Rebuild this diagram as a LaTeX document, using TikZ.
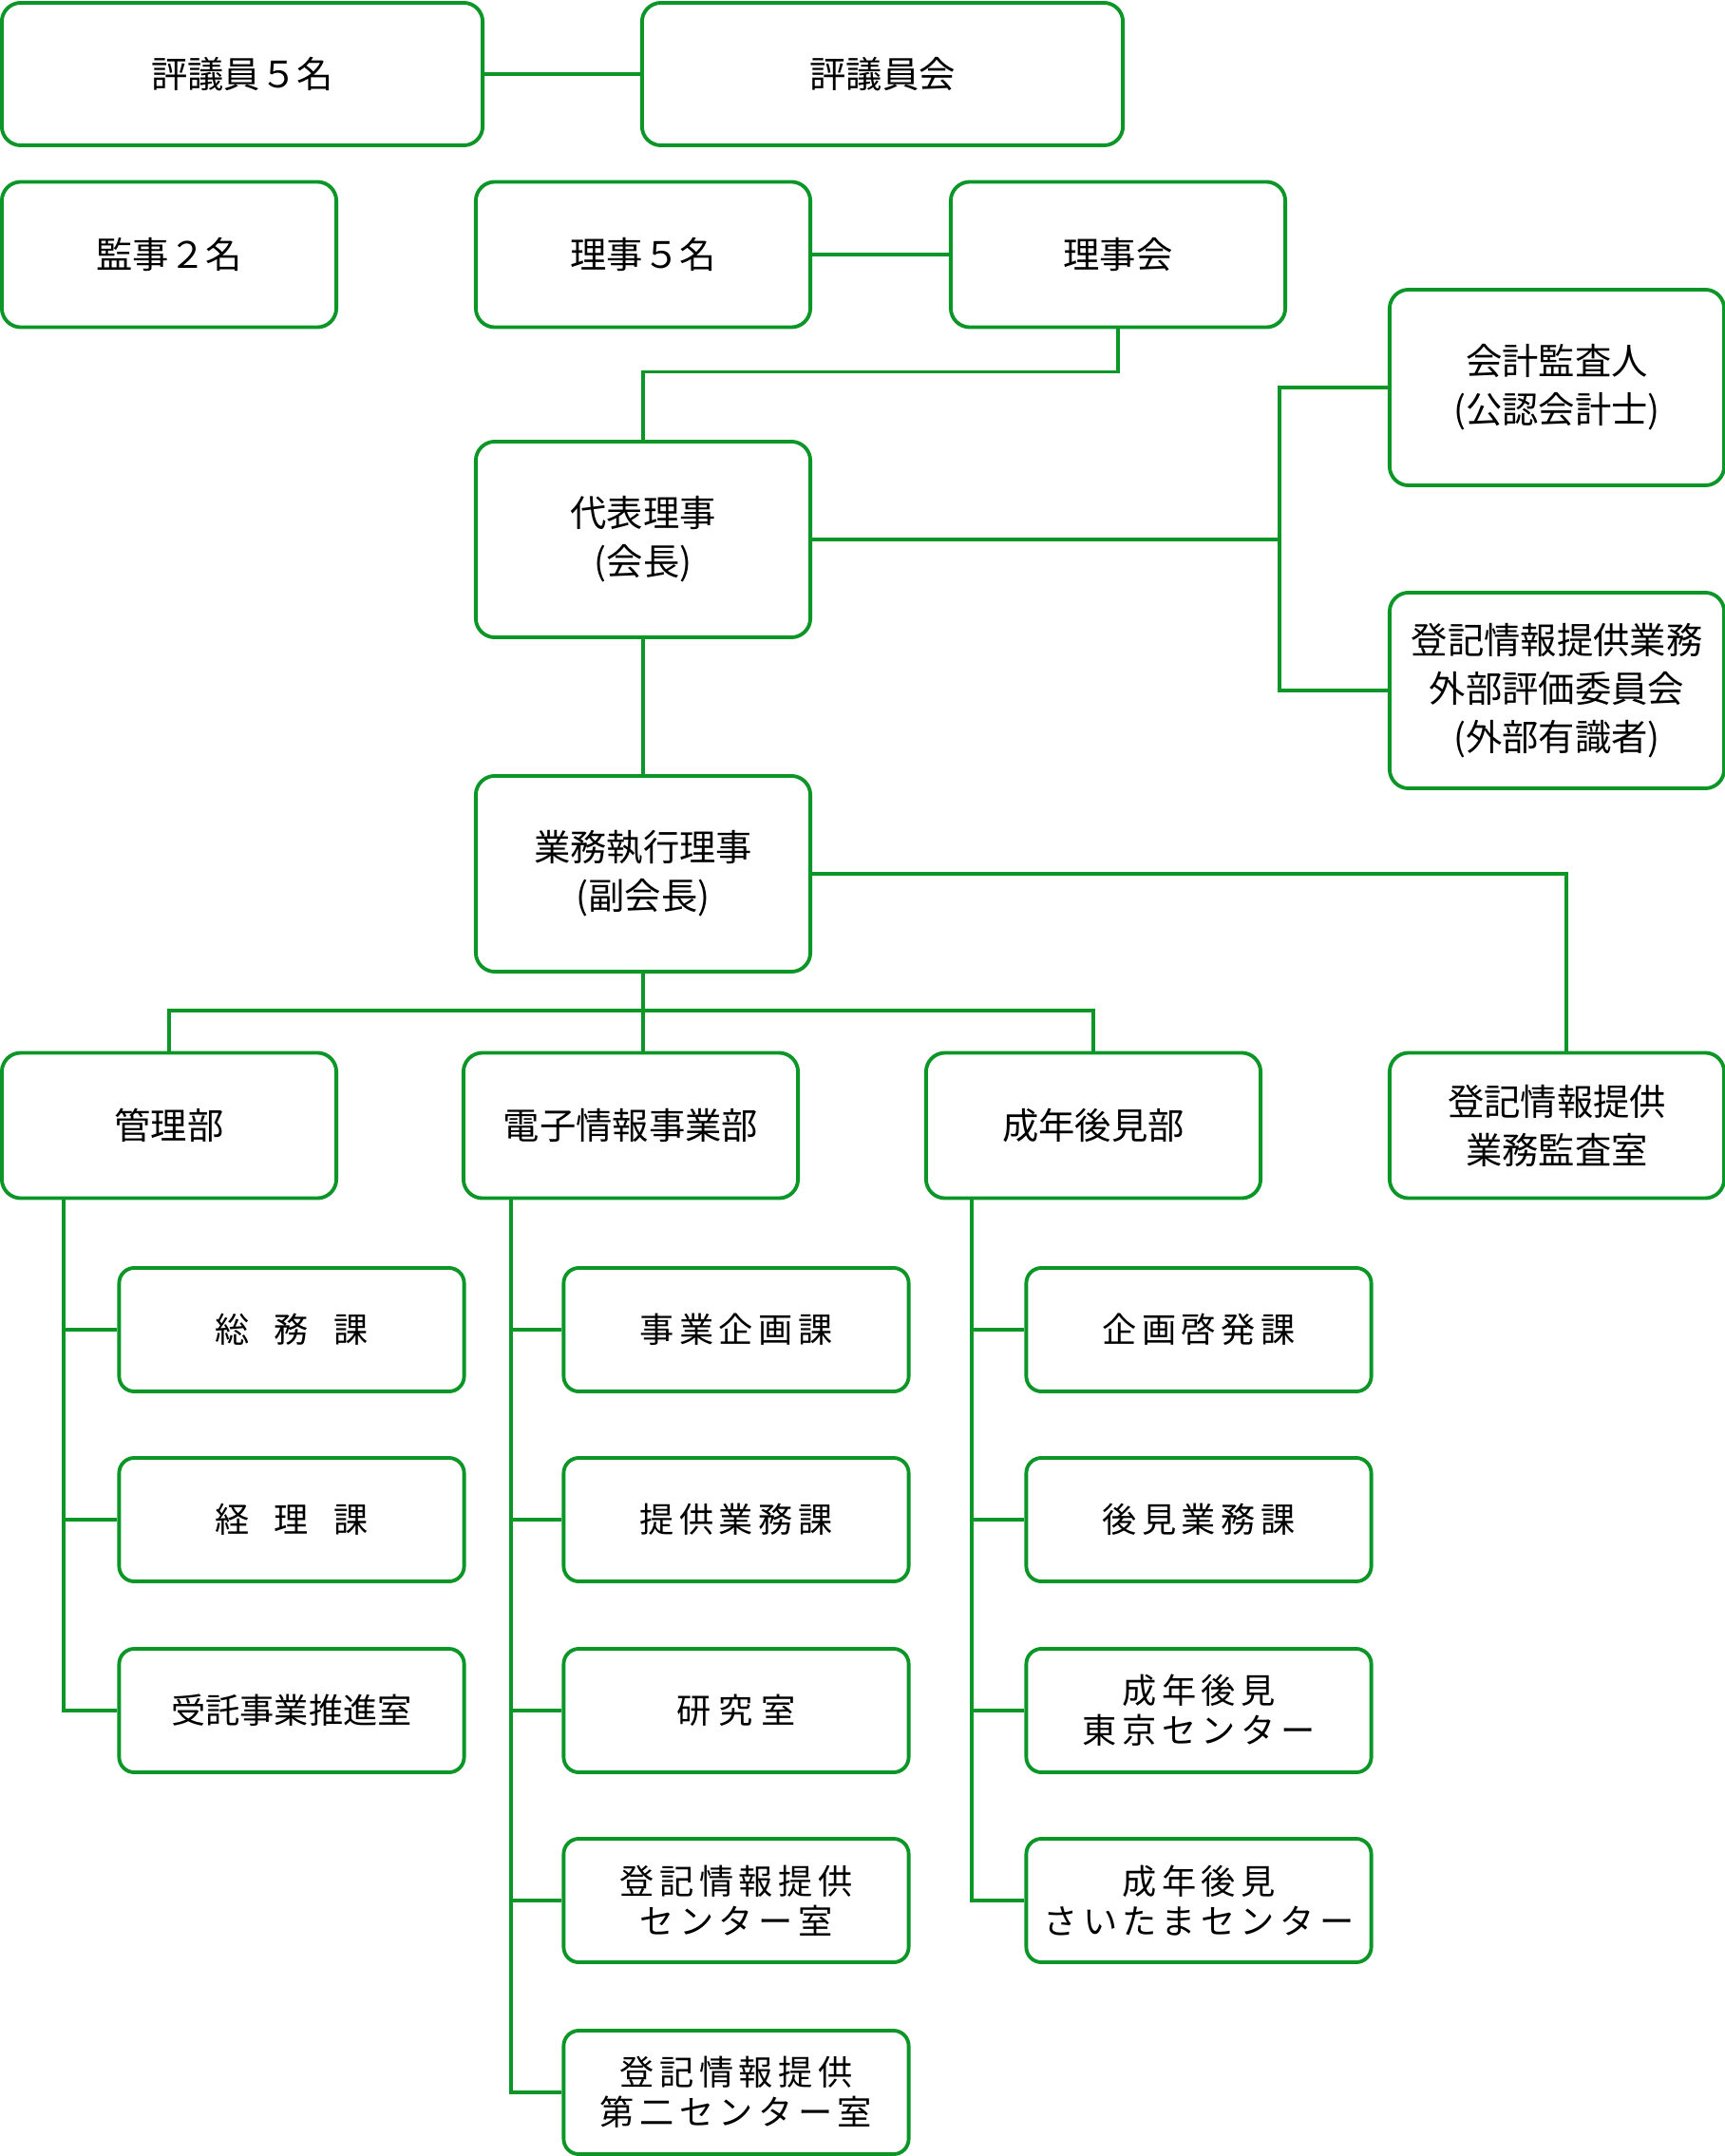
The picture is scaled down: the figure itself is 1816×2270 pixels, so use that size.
\documentclass[tikz,border=0pt]{standalone}
\usepackage{fontspec}
\setmainfont{Noto Sans CJK JP}
\newfontfamily\subfont{Noto Sans CJK JP}[LetterSpace=15]
\definecolor{orggreen}{RGB}{12,150,40}

\begin{document}
\begin{tikzpicture}[x=0.01cm,y=-0.01cm,
  box/.style={draw=orggreen,line width=1.1pt,rounded corners=0.2cm,align=center,
    inner sep=0pt,font=\fontsize{10.9}{14.5}\selectfont},
  wide/.style={minimum width=5.06cm,minimum height=1.5cm},
  mid/.style={minimum width=3.52cm,minimum height=1.53cm},
  tall/.style={minimum width=3.52cm,minimum height=2.06cm},
  sub/.style={box,rounded corners=0.16cm,minimum width=3.63cm,minimum height=1.3cm,
    font=\subfont\fontsize{10.3}{12}\selectfont},
  link/.style={draw=orggreen,line width=0.9pt}]
\useasboundingbox (0,0) rectangle (1816,2270);

\node[box,wide] (hyogiin) at (255,78) {評議員５名};
\node[box,wide] (hyogikai) at (929,78) {評議員会};
\node[box,mid] (kanji) at (178,268) {監事２名};
\node[box,mid] (riji) at (677,268) {理事５名};
\node[box,mid] (rijikai) at (1177,268) {理事会};
\node[box,tall] (daihyo) at (677,568) {代表理事\\(会長)};
\node[box,tall] (kaikei) at (1639,408) {会計監査人\\(公認会計士)};
\node[box,tall] (gaibu) at (1639,727) {登記情報提供業務\\外部評価委員会\\(外部有識者)};
\node[box,tall] (gyomu) at (677,920) {業務執行理事\\(副会長)};
\node[box,mid] (kanri) at (178,1185) {管理部};
\node[box,mid] (denshi) at (664,1185) {電子情報事業部};
\node[box,mid] (seinen) at (1151,1185) {成年後見部};
\node[box,mid] (kansa) at (1639,1185) {登記情報提供\\業務監査室};

\node[sub] (somu) at (307,1400) {総\hspace{0.265cm}務\hspace{0.265cm}課};
\node[sub] (keiri) at (307,1600) {経\hspace{0.265cm}理\hspace{0.265cm}課};
\node[sub,font=\fontsize{10.3}{12}\selectfont] (jutaku) at (307,1801) {受託事業推進室};
\node[sub] (jigyo) at (775,1400) {事業企画課};
\node[sub] (teikyo) at (775,1600) {提供業務課};
\node[sub] (kenkyu) at (775,1801) {研\hspace{0.08cm}究\hspace{0.08cm}室};
\node[sub] (center1) at (775,2001) {登記情報提供\\センター室};
\node[sub] (center2) at (775,2203) {登記情報提供\\第二センター室};
\node[sub] (keihatsu) at (1262,1400) {企画啓発課};
\node[sub] (koken) at (1262,1600) {後見業務課};
\node[sub] (tokyo) at (1262,1801) {成年後見\\東京センター};
\node[sub] (saitama) at (1262,2001) {成年後見\\さいたまセンター};

\draw[link] (hyogiin) -- (hyogikai);
\draw[link] (riji) -- (rijikai);
\draw[link] (rijikai.south) -- ++(0,45) -| (daihyo.north);
\draw[link] (daihyo) -- (gyomu);
\coordinate (rbus) at (1347,568);
\draw[link] (daihyo.east) -- (rbus);
\draw[link] (kaikei.west) -| (rbus) |- (gaibu.west);
\draw[link] (gyomu.east) -| ([xshift=0.1cm]kansa.north);
\coordinate (dbus) at (677,1064);
\draw[link] (kanri.north) |- (dbus) -| (seinen.north);
\draw[link] (gyomu.south) -- (gyomu.south |- denshi.north);

\coordinate (kt) at ([xshift=0.67cm]kanri.south west);
\draw[link] (kt) |- (jutaku.west);
\foreach \n in {somu,keiri} \draw[link] (kt |- \n.west) -- (\n.west);
\coordinate (dt) at ([xshift=0.52cm]denshi.south west);
\draw[link] (dt) |- (center2.west);
\foreach \n in {jigyo,teikyo,kenkyu,center1} \draw[link] (dt |- \n.west) -- (\n.west);
\coordinate (st) at ([xshift=0.5cm]seinen.south west);
\draw[link] (st) |- (saitama.west);
\foreach \n in {keihatsu,koken,tokyo} \draw[link] (st |- \n.west) -- (\n.west);
\end{tikzpicture}
\end{document}
